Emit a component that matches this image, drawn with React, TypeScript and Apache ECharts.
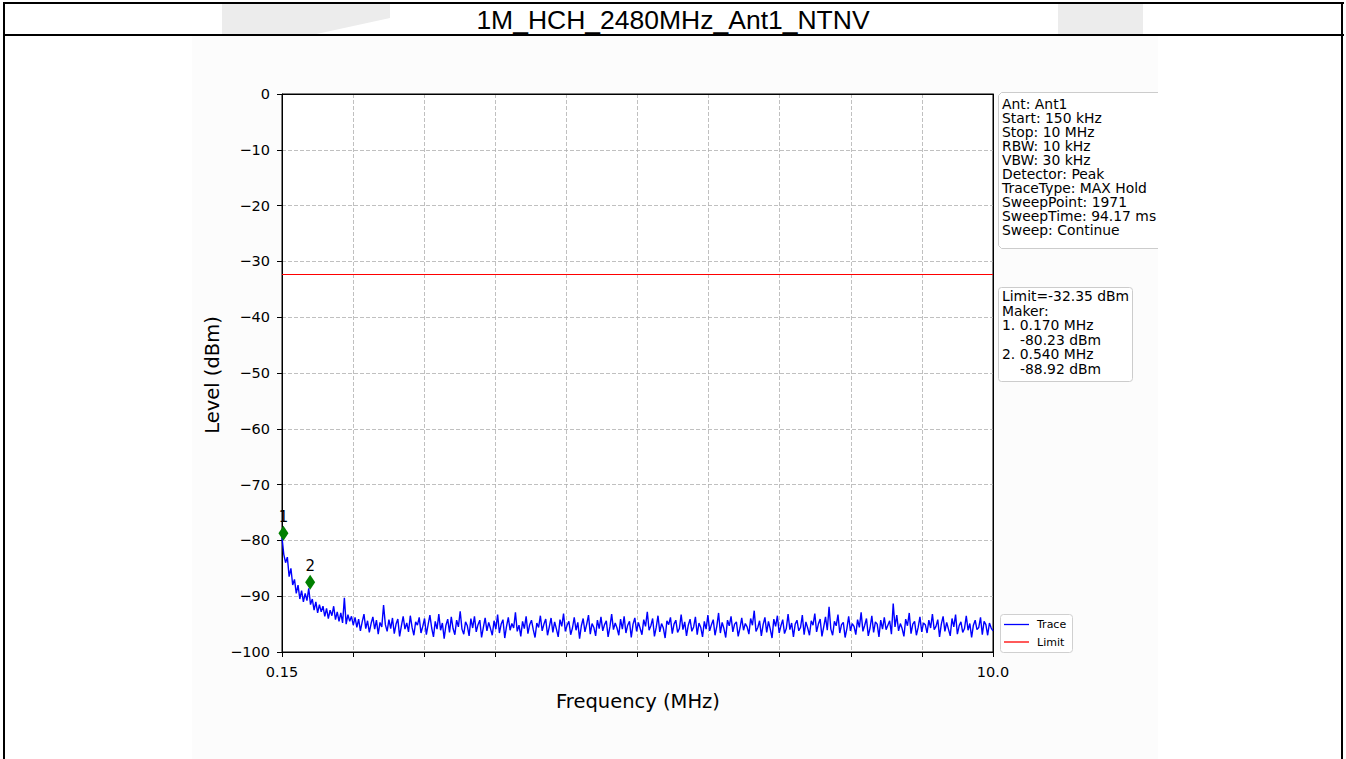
import { useEffect, useRef } from "react";
import * as echarts from "echarts";

const chartTitle = "1M_HCH_2480MHz_Ant1_NTNV";
const xAxisName = "Frequency (MHz)";
const yAxisName = "Level (dBm)";
const freqStart = 0.15;
const freqStop = 10.0;
const xTickStep = 0.985;
const yMin = -100;
const yMax = 0;
const yTickStep = 10;
const limitLevel = -32.35;

const traceLevels = [
  -79.5, -82.5, -84.0, -83.0, -86.5, -85.0, -88.0, -87.0, -89.5, -88.0,
  -90.5, -89.0, -91.0, -89.5, -90.8, -88.6, -91.5, -90.5, -92.5, -91.0,
  -93.0, -91.5, -92.8, -91.8, -93.6, -92.2, -94.0, -92.5, -93.5, -91.8,
  -94.2, -92.8, -94.5, -93.0, -94.8, -90.3, -95.0, -93.3, -94.5, -93.6,
  -95.2, -93.8, -95.6, -94.1, -96.2, -94.6, -93.2, -95.8, -94.4, -96.5,
  -94.9, -93.7, -95.9, -94.3, -96.8, -94.7, -95.5, -91.6, -95.1, -96.3,
  -94.2, -95.8, -93.9, -96.7, -95.0, -94.1, -97.2, -95.3, -93.6, -95.9,
  -94.8, -96.4, -93.5, -95.6, -97.0, -94.6, -95.2, -93.8, -96.6, -95.4,
  -94.0, -96.9, -95.1, -93.4, -95.7, -97.3, -94.5, -95.9, -93.2, -96.1,
  -94.8, -97.6, -95.2, -94.1, -96.5, -93.7, -95.8, -96.9, -94.3, -95.5,
  -92.7, -95.9, -96.8, -94.6, -95.3, -97.1, -94.0, -95.7, -93.6, -96.4,
  -95.1, -94.3, -97.4, -95.6, -93.9, -96.2, -94.7, -95.8, -97.0, -94.4,
  -95.9, -93.3, -96.6, -95.0, -94.2, -97.5, -95.4, -93.8, -96.1, -94.9,
  -95.7, -92.9, -96.3, -95.2, -97.2, -94.5, -95.8, -93.6, -96.7, -95.1,
  -94.3, -96.0, -97.4, -94.8, -95.6, -93.5, -96.2, -95.0, -94.1, -97.0,
  -95.5, -93.9, -96.5, -94.6, -95.9, -97.3, -94.2, -95.4, -93.1, -96.3,
  -95.2, -94.5, -96.9, -95.7, -93.8, -96.1, -94.7, -97.6, -95.3, -94.0,
  -96.4, -95.0, -93.4, -96.8, -94.9, -95.6, -97.1, -94.3, -95.8, -93.7,
  -96.2, -95.1, -94.4, -97.3, -95.5, -93.2, -96.0, -94.8, -95.7, -97.0,
  -94.1, -95.9, -93.6, -96.6, -95.2, -94.5, -97.4, -95.0, -93.9, -96.3,
  -94.7, -95.8, -96.9, -94.2, -95.4, -92.8, -96.1, -95.3, -94.0, -97.2,
  -95.6, -93.5, -96.4, -94.9, -95.7, -97.5, -94.4, -95.1, -93.8, -96.7,
  -95.0, -94.3, -96.5, -95.8, -93.3, -96.0, -94.6, -97.1, -95.2, -94.1,
  -96.3, -95.5, -93.7, -96.9, -94.8, -95.6, -97.3, -94.5, -95.9, -93.4,
  -96.2, -95.1, -94.2, -97.0, -95.4, -93.0, -96.6, -94.7, -95.8, -97.4,
  -94.3, -95.3, -93.6, -96.4, -95.0, -94.6, -97.2, -95.7, -93.9, -96.1,
  -94.9, -95.5, -96.8, -94.0, -95.2, -92.6, -96.3, -95.6, -94.4, -97.1,
  -95.1, -93.8, -96.5, -94.5, -95.9, -97.5, -94.1, -95.4, -93.5, -96.6,
  -95.3, -94.2, -96.7, -95.8, -93.2, -96.0, -94.8, -97.3, -95.0, -94.3,
  -96.2, -95.6, -93.4, -96.9, -94.6, -95.7, -97.0, -94.4, -95.2, -93.1,
  -96.4, -95.0, -94.1, -97.2, -95.5, -93.7, -96.1, -91.9, -95.9, -97.0,
  -94.5, -95.3, -93.3, -96.6, -95.1, -94.7, -97.4, -95.8, -93.6, -96.2,
  -94.9, -95.4, -96.9, -94.2, -95.6, -92.9, -96.3, -95.2, -94.0, -97.1,
  -95.7, -93.5, -96.5, -94.6, -95.0, -97.3, -94.3, -95.9, -93.8, -96.0,
  -95.2, -94.4, -96.8, -91.3, -95.5, -93.4, -96.2, -94.9, -95.8, -97.2,
  -94.1, -95.3, -93.0, -96.7, -95.0, -94.5, -97.0, -95.6, -93.7, -96.4,
  -94.8, -95.1, -96.6, -94.3, -95.7, -93.2, -96.0, -95.4, -94.2, -97.3,
  -95.0, -93.6, -96.3, -94.7, -95.9, -97.1, -94.0, -95.5, -93.3, -96.8,
  -95.3, -94.6, -96.5, -95.8, -93.5, -96.1, -94.9, -97.4, -95.2, -94.3,
  -96.0, -95.6, -93.8, -96.9, -94.5, -95.1, -97.0, -94.8, -95.7, -96.2,
];

const markerNames = ["1", "2"];
const markerFreqs = [0.17, 0.54];
const markerLevels = [-78.7, -87.5];

const infoLines = [
  "Ant: Ant1",
  "Start: 150 kHz",
  "Stop: 10 MHz",
  "RBW: 10 kHz",
  "VBW: 30 kHz",
  "Detector: Peak",
  "TraceType: MAX Hold",
  "SweepPoint: 1971",
  "SweepTime: 94.17 ms",
  "Sweep: Continue",
];

const limitInfoLines = [
  "Limit=-32.35 dBm",
  "Maker:",
  "1. 0.170 MHz",
  "-80.23 dBm",
  "2. 0.540 MHz",
  "-88.92 dBm",
];
const limitInfoIndent = [false, false, false, true, false, true];

const legendNames = ["Trace", "Limit"];
const traceColor = "#0000ff";
const limitColor = "#ff0000";
const markerColor = "#008000";

const FONT = "DejaVu Sans";

export default function App() {
  const ref = useRef<HTMLDivElement>(null);

  useEffect(() => {
    if (!ref.current) return;
    const chart = echarts.init(ref.current, null, { renderer: "svg" });

    const n = traceLevels.length;
    const step = (freqStop - freqStart) / (n - 1);
    const traceData = traceLevels.map((v, i) => [freqStart + i * step, v]);
    const limitData = [
      [freqStart, limitLevel],
      [freqStop, limitLevel],
    ];
    const markerData = markerFreqs.map((f, i) => ({
      value: [f, markerLevels[i]],
      name: markerNames[i],
    }));

    const graphic: any[] = [];
    graphic.push({
      type: "polygon",
      z: -20,
      silent: true,
      shape: { points: [[222, 4], [390, 4], [390, 18], [312, 35], [222, 35]] },
      style: { fill: "#ececec" },
    });
    graphic.push({
      type: "rect",
      z: -20,
      silent: true,
      shape: { x: 1058, y: 4, width: 85, height: 31 },
      style: { fill: "#ececec" },
    });
    graphic.push({
      type: "rect",
      z: -20,
      silent: true,
      shape: { x: 192, y: 36, width: 966, height: 723 },
      style: { fill: "#fcfcfc" },
    });
    const black = { stroke: "#000", lineWidth: 2 };
    graphic.push({ type: "line", z: 50, shape: { x1: 3, y1: 3, x2: 1344, y2: 3 }, style: black });
    graphic.push({ type: "line", z: 50, shape: { x1: 3, y1: 35, x2: 1344, y2: 35 }, style: black });
    graphic.push({ type: "line", z: 50, shape: { x1: 4, y1: 2, x2: 4, y2: 759 }, style: black });
    graphic.push({ type: "line", z: 50, shape: { x1: 1342, y1: 2, x2: 1342, y2: 759 }, style: black });
    graphic.push({
      type: "text",
      z: 50,
      x: 673,
      y: 19.5,
      style: {
        text: chartTitle,
        fontFamily: "Liberation Sans",
        fontSize: 26.5,
        fill: "#000",
        align: "center",
        verticalAlign: "middle",
      },
    });
    graphic.push({
      type: "text",
      z: 50,
      x: 212,
      y: 375,
      rotation: Math.PI / 2,
      style: {
        text: yAxisName,
        fontFamily: FONT,
        fontSize: 19.5,
        fill: "#000",
        align: "center",
        verticalAlign: "middle",
      },
    });
    graphic.push({
      type: "text",
      z: 50,
      x: 638,
      y: 701,
      style: {
        text: xAxisName,
        fontFamily: FONT,
        fontSize: 19.5,
        fill: "#000",
        align: "center",
        verticalAlign: "middle",
      },
    });
    graphic.push({
      type: "rect",
      z: 40,
      shape: { x: 999, y: 92.5, width: 159, height: 156 },
      style: { fill: "#ffffff" },
    });
    graphic.push({
      type: "polyline",
      z: 41,
      shape: { points: [[1158, 92.5], [1001.5, 92.5], [998.5, 95.5], [998.5, 245.5], [1001.5, 248.5], [1158, 248.5]] },
      style: { stroke: "#cccccc", lineWidth: 1, fill: "none" },
    });
    infoLines.forEach((t, i) => {
      graphic.push({
        type: "text",
        z: 42,
        x: 1002,
        y: 103.5 + i * 14.1,
        style: { text: t, fontFamily: FONT, fontSize: 13.9, fill: "#000", verticalAlign: "middle" },
      });
    });
    graphic.push({
      type: "rect",
      z: 40,
      shape: { x: 998.5, y: 287.5, width: 134, height: 94, r: 3 },
      style: { fill: "#ffffff", stroke: "#cccccc", lineWidth: 1 },
    });
    limitInfoLines.forEach((t, i) => {
      graphic.push({
        type: "text",
        z: 42,
        x: limitInfoIndent[i] ? 1020 : 1002,
        y: 296.3 + i * 14.5,
        style: { text: t, fontFamily: FONT, fontSize: 13.9, fill: "#000", verticalAlign: "middle" },
      });
    });
    graphic.push({
      type: "rect",
      z: 40,
      shape: { x: 1000.5, y: 614.5, width: 72, height: 38, r: 3 },
      style: { fill: "#ffffff", stroke: "#d0d0d0", lineWidth: 1 },
    });
    [traceColor, limitColor].forEach((c, i) => {
      const yy = 624.5 + i * 17.5;
      graphic.push({
        type: "line",
        z: 42,
        shape: { x1: 1004, y1: yy, x2: 1029, y2: yy },
        style: { stroke: c, lineWidth: 1.3 },
      });
      graphic.push({
        type: "text",
        z: 42,
        x: 1037,
        y: yy,
        style: { text: legendNames[i], fontFamily: FONT, fontSize: 11, fill: "#000", verticalAlign: "middle" },
      });
    });

    const spineAxis = {
      type: "value",
      axisLine: { show: true, onZero: false, lineStyle: { color: "#000", width: 1 } },
      axisTick: { show: false },
      axisLabel: { show: false },
      splitLine: { show: false },
    };

    const option: any = {
      animation: false,
      backgroundColor: "#ffffff",
      graphic,
      grid: {
        left: 282,
        right: 353,
        top: 94,
        bottom: 107,
        show: true,
        backgroundColor: "#ffffff",
        borderColor: "#000",
        borderWidth: 1,
      },
      xAxis: [
        {
          type: "value",
          min: freqStart,
          max: freqStop,
          interval: xTickStep,
          axisLine: { show: true, onZero: false, lineStyle: { color: "#000", width: 1 } },
          axisTick: { show: true, inside: false, length: 5, lineStyle: { color: "#000", width: 1 } },
          axisLabel: {
            show: true,
            color: "#000",
            fontFamily: FONT,
            fontSize: 14.5,
            margin: 12,
            showMinLabel: true,
            showMaxLabel: true,
            formatter: (v: number) => {
              if (Math.abs(v - freqStart) < 1e-6) return freqStart.toFixed(2);
              if (Math.abs(v - freqStop) < 1e-6) return freqStop.toFixed(1);
              return "";
            },
          },
          splitLine: { show: true, lineStyle: { color: "#b0b0b0", width: 0.8, type: [4, 2] } },
        },
        { ...spineAxis, position: "top", min: freqStart, max: freqStop },
      ],
      yAxis: [
        {
          type: "value",
          min: yMin,
          max: yMax,
          interval: yTickStep,
          axisLine: { show: true, onZero: false, lineStyle: { color: "#000", width: 1 } },
          axisTick: { show: true, inside: false, length: 5, lineStyle: { color: "#000", width: 1 } },
          axisLabel: {
            show: true,
            color: "#000",
            fontFamily: FONT,
            fontSize: 14.5,
            margin: 12,
            formatter: (v: number) => (v < 0 ? "\u2212" + Math.abs(v) : String(v)),
          },
          splitLine: { show: true, lineStyle: { color: "#b0b0b0", width: 0.8, type: [4, 2] } },
        },
        { ...spineAxis, position: "right", min: yMin, max: yMax },
      ],
      series: [
        {
          name: "Trace",
          type: "line",
          data: traceData,
          showSymbol: false,
          symbol: "none",
          lineStyle: { color: traceColor, width: 1.4 },
          z: 3,
        },
        {
          name: "Limit",
          type: "line",
          data: limitData,
          showSymbol: false,
          symbol: "none",
          lineStyle: { color: limitColor, width: 1 },
          z: 3,
        },
        {
          name: "Markers",
          type: "scatter",
          data: markerData,
          symbol: "diamond",
          symbolSize: [10, 15],
          itemStyle: { color: markerColor, opacity: 1 },
          label: {
            show: true,
            position: "top",
            distance: 1,
            formatter: (p: any) => p.name,
            color: "#000",
            opacity: 1,
            fontFamily: FONT,
            fontSize: 15,
          },
          emphasis: { disabled: true },
          z: 5,
        },
      ],
    };

    chart.setOption(option);
    return () => chart.dispose();
  }, []);

  return (
    <div style={{ position: "fixed", left: 0, top: 0, width: 1346, height: 759, background: "#fff" }}>
      <div ref={ref} style={{ width: 1346, height: 759 }} />
    </div>
  );
}
